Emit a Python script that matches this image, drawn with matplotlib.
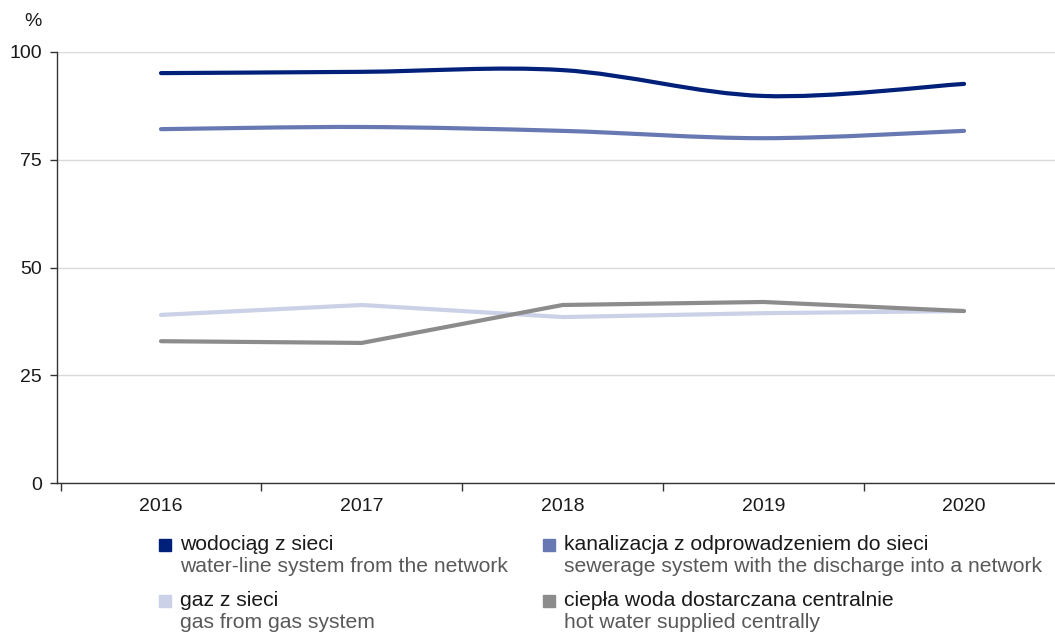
import matplotlib
matplotlib.use("Agg")
import matplotlib.pyplot as plt
import numpy as np
from matplotlib.path import Path
from matplotlib.patches import PathPatch, Rectangle

plt.rcParams["font.family"] = ["Liberation Sans", "DejaVu Sans"]

years = ["2016", "2017", "2018", "2019", "2020"]
wodociag = [95.1, 95.4, 95.8, 89.8, 92.6]
kanalizacja = [82.1, 82.6, 81.7, 80.0, 81.7]
gaz = [39.0, 41.3, 38.5, 39.4, 39.9]
cieplo = [32.9, 32.5, 41.3, 42.0, 39.9]

labels_pl = ["wodociąg z sieci", "kanalizacja z odprowadzeniem do sieci",
             "gaz z sieci", "ciepła woda dostarczana centralnie"]
labels_en = ["water-line system from the network",
             "sewerage system with the discharge into a network",
             "gas from gas system", "hot water supplied centrally"]
colors = ["#00207A", "#6778B2", "#CBD1E6", "#8C8C8C"]


def smooth_path(xs, ys):
    # excel-style smoothed line: catmull-rom segments as cubic beziers
    pts = np.column_stack([xs, ys]).astype(float)
    n = len(pts)
    verts = [pts[0]]
    codes = [Path.MOVETO]
    for i in range(n - 1):
        p0 = pts[i - 1] if i > 0 else pts[i]
        p1, p2 = pts[i], pts[i + 1]
        p3 = pts[i + 2] if i + 2 < n else pts[i + 1]
        c1 = p1 + (p2 - p0) / 6.0
        c2 = p2 - (p3 - p1) / 6.0
        verts += [c1, c2, p2]
        codes += [Path.CURVE4] * 3
    return Path(verts, codes)


fig = plt.figure(figsize=(10.55, 6.32), dpi=100)
ax = fig.add_axes([57 / 1055, 1 - 483 / 632, 1 - 57 / 1055, (483 - 52) / 632])

x = np.arange(len(years))
lw = 3.0
# grey lines below the blue ones
ax.plot(x, gaz, color=colors[2], lw=lw, solid_capstyle="round", zorder=3)
ax.plot(x, cieplo, color=colors[3], lw=lw, solid_capstyle="round", zorder=4)
for vals, c in [(kanalizacja, colors[1]), (wodociag, colors[0])]:
    ax.add_patch(PathPatch(smooth_path(x, vals), fill=False, edgecolor=c,
                           lw=lw, capstyle="round", zorder=5))

ax.set_xlim(-0.518, 4.453)
ax.set_ylim(0, 100)
ax.set_yticks([0, 25, 50, 75, 100])
ax.set_xticks(x)
ax.set_xticklabels(years)
ax.set_xticks(np.arange(-0.5, 4.0, 1.0), minor=True)
ax.tick_params(axis="x", which="major", length=0, pad=11, labelsize=14,
               labelcolor="#1a1a1a")
ax.tick_params(axis="x", which="minor", length=6, width=1, color="#333333")
ax.tick_params(axis="y", length=5, width=1, color="#333333", pad=6,
               labelsize=14, labelcolor="#1a1a1a")
ax.grid(axis="y", color="#DADADA", lw=1)
ax.set_axisbelow(True)
for s in ["top", "right"]:
    ax.spines[s].set_visible(False)
for s in ["left", "bottom"]:
    ax.spines[s].set_color("#333333")
    ax.spines[s].set_linewidth(1)

fig.text(33 / 1055, 1 - 21 / 632, "%", fontsize=14, color="#1a1a1a",
         ha="center", va="center")

# legend, drawn by hand (two-line entries)
leg_pos = [(165, 545), (549, 545), (165, 601), (549, 601)]
for (px, py), c, pl, en in zip(leg_pos, colors, labels_pl, labels_en):
    fig.add_artist(Rectangle(((px - 6) / 1055, 1 - (py + 6) / 632),
                             12 / 1055, 12 / 632, color=c,
                             transform=fig.transFigure))
    fig.text((px + 15) / 1055, 1 - py / 632, pl, fontsize=15.2,
             color="#1a1a1a", va="center", ha="left")
    fig.text((px + 15) / 1055, 1 - (py + 22) / 632, en, fontsize=15.2,
             color="#595959", va="center", ha="left")

fig.savefig("out.png", dpi=100)
